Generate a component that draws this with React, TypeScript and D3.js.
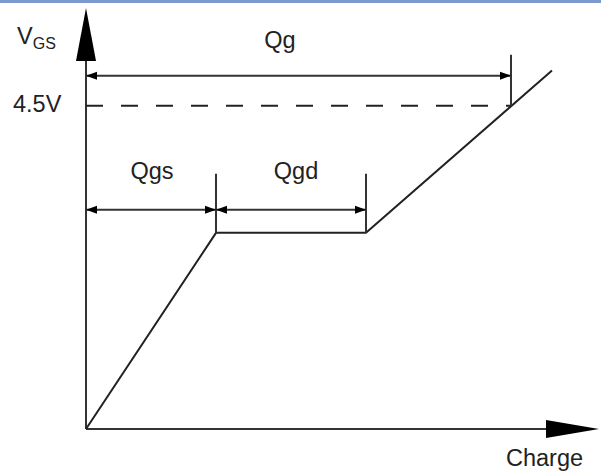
import { useEffect, useRef } from "react";
import * as d3 from "d3";

// gate charge curve (nC, V)
const chargePts = [0, 2.6, 5.6, 9.32];
const vgsPts = [0, 2.73, 2.73, 4.99];
const qgsEnd = 2.6;
const qgdEnd = 5.6;
const qgEnd = 8.5;
const vDrive = 4.5;
const chargeMax = 10.26;
const vgsMax = 5.86;
const driveLabel = "4.5V";
const xLabel = "Charge";
const dimLabels = ["Qg", "Qgs", "Qgd"];

const W = 601,
  H = 474;

const App = () => {
  const ref = useRef<SVGSVGElement>(null);

  useEffect(() => {
    const svg = d3.select(ref.current);
    svg.selectAll("*").remove();

    const x = d3.scaleLinear().domain([0, chargeMax]).range([86, 599]);
    const y = d3.scaleLinear().domain([0, vgsMax]).range([429, 8]);
    const ink = "#222";
    const font = "'Liberation Sans', Arial, sans-serif";
    const fs = 23.5;

    // top band
    svg.append("rect").attr("x", 0).attr("y", 0).attr("width", W).attr("height", 3).attr("fill", "#7b99cf");

    // axes
    svg
      .append("line")
      .attr("x1", x(0)).attr("y1", y(0))
      .attr("x2", x(0)).attr("y2", y(vgsMax) + 40)
      .attr("stroke", "#333").attr("stroke-width", 2);
    svg
      .append("line")
      .attr("x1", x(0)).attr("y1", y(0))
      .attr("x2", x(chargeMax) - 40).attr("y2", y(0))
      .attr("stroke", "#333").attr("stroke-width", 2);
    svg
      .append("path")
      .attr("d", `M${x(0)},${y(vgsMax)} L${x(0) + 10},${y(vgsMax) + 53} L${x(0) - 10},${y(vgsMax) + 53} Z`)
      .attr("fill", "#000");
    svg
      .append("path")
      .attr("d", `M${x(chargeMax)},${y(0)} L${x(chargeMax) - 53},${y(0) - 9} L${x(chargeMax) - 53},${y(0) + 9} Z`)
      .attr("fill", "#000");

    // curve
    const line = d3
      .line<number>()
      .x((d) => x(d))
      .y((d, i) => y(vgsPts[i]));
    svg
      .append("path")
      .datum(chargePts)
      .attr("d", line)
      .attr("fill", "none")
      .attr("stroke", ink)
      .attr("stroke-width", 2);

    // 4.5V dashed line
    svg
      .append("line")
      .attr("x1", x(0)).attr("y1", y(vDrive))
      .attr("x2", x(qgEnd)).attr("y2", y(vDrive))
      .attr("stroke", ink).attr("stroke-width", 2)
      .attr("stroke-dasharray", "17 18");

    const tick = (q: number, top: number, bottom: number) =>
      svg
        .append("line")
        .attr("x1", x(q)).attr("y1", top)
        .attr("x2", x(q)).attr("y2", bottom)
        .attr("stroke", "#333").attr("stroke-width", 2);

    const dim = (q0: number, q1: number, yy: number) => {
      const a = x(q0),
        b = x(q1);
      svg
        .append("line")
        .attr("x1", a).attr("y1", yy).attr("x2", b).attr("y2", yy)
        .attr("stroke", "#333").attr("stroke-width", 2);
      svg.append("path").attr("d", `M${a},${yy} L${a + 11},${yy - 4} L${a + 11},${yy + 4} Z`).attr("fill", "#000");
      svg.append("path").attr("d", `M${b},${yy} L${b - 11},${yy - 4} L${b - 11},${yy + 4} Z`).attr("fill", "#000");
    };

    const qgY = y(vDrive) - 30;
    const subY = y(vgsPts[1]) - 23;
    tick(qgEnd, qgY - 21, y(vDrive));
    tick(qgsEnd, subY - 36, y(vgsPts[1]));
    tick(qgdEnd, subY - 36, y(vgsPts[2]));
    dim(0, qgEnd, qgY);
    dim(0, qgsEnd, subY);
    dim(qgsEnd, qgdEnd, subY);

    const txt = (s: string, tx: number, ty: number, anchor = "middle", size = fs) =>
      svg
        .append("text")
        .attr("x", tx).attr("y", ty)
        .attr("text-anchor", anchor)
        .attr("font-family", font)
        .attr("font-size", size)
        .attr("fill", ink)
        .text(s);

    txt(dimLabels[0], 280, qgY - 28);
    txt(dimLabels[1], (x(0) + x(qgsEnd)) / 2 + 1, subY - 31);
    txt(dimLabels[2], (x(qgsEnd) + x(qgdEnd)) / 2 + 5, subY - 31);
    txt(driveLabel, 13, y(vDrive) + 6, "start");
    txt(xLabel, 506, 466, "start");

    const v = svg
      .append("text")
      .attr("x", 17).attr("y", 44)
      .attr("font-family", font)
      .attr("fill", ink)
      .attr("font-size", fs);
    v.append("tspan").text("V");
    v.append("tspan").attr("font-size", 16).attr("dy", 5).text("GS");
  }, []);

  return (
    <svg
      ref={ref}
      width={W}
      height={H}
      style={{ position: "absolute", left: 0, top: 0, background: "#fff" }}
    />
  );
};

export default App;
